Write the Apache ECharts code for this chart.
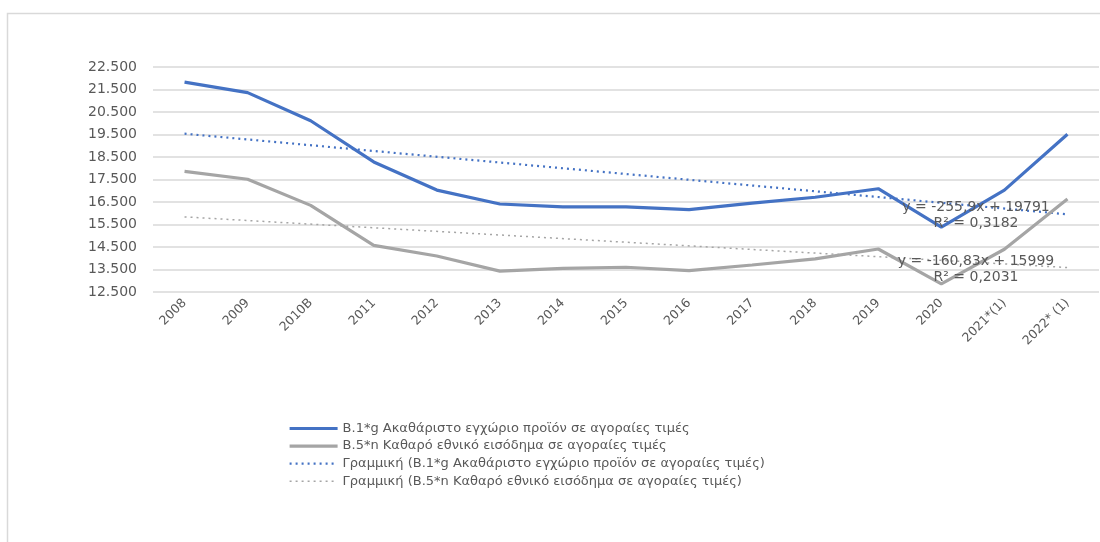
<!DOCTYPE html>
<html>
<head>
<meta charset="utf-8">
<script src="https://cdn.jsdelivr.net/npm/echarts@6/dist/echarts.min.js"></script>
<style>
  html, body { margin: 0; padding: 0; background: #ffffff; }
  #chart { width: 1100px; height: 542px; }
</style>
</head>
<body>
<div id="chart"></div>
<script>
// Years (categories)
const years = ['2008', '2009', '2010B', '2011', '2012', '2013', '2014', '2015', '2016',
  '2017', '2018', '2019', '2020', '2021*(1)', '2022* (1)'];

// Β.1*g Gross domestic product at market prices
const gdp = [21830, 21360, 20110, 18280, 17030, 16410, 16280, 16280, 16160,
  16450, 16710, 17090, 15380, 17030, 19510];

// Β.5*n Net national income at market prices
const nni = [17860, 17510, 16350, 14570, 14100, 13430, 13550, 13600, 13450,
  13700, 13970, 14410, 12860, 14400, 16630];

// Linear trend coefficients as printed on the chart (y = a·x + b, x = 1..15)
const gdpTrend = { slope: -255.9, intercept: 19791, r2: '0,3182', eq: 'y = -255,9x + 19791' };
const nniTrend = { slope: -160.83, intercept: 15999, r2: '0,2031', eq: 'y = -160,83x + 15999' };

// Y axis range and step
const yMin = 12500, yMax = 22500, yStep = 1000;

const names = [
  'Β.1*g Ακαθάριστο εγχώριο προϊόν σε αγοραίες τιμές',
  'Β.5*n Καθαρό εθνικό εισόδημα σε αγοραίες τιμές',
  'Γραμμική (Β.1*g Ακαθάριστο εγχώριο προϊόν σε αγοραίες τιμές)',
  'Γραμμική (Β.5*n Καθαρό εθνικό εισόδημα σε αγοραίες τιμές)'
];

// Trend line drawn between its first and last category
function trendEnds(t) {
  const n = years.length;
  return [[0, t.slope * 1 + t.intercept], [n - 1, t.slope * n + t.intercept]];
}

const textColor = '#595959';
const font = 'DejaVu Sans';

// Trend equation / R² text centred at (cx, cy)
function eqText(cx, cy, text) {
  return {
    type: 'text', z: 10, silent: true,
    x: cx, y: cy,
    style: { text: text, fill: textColor, font: '14px "DejaVu Sans"', align: 'center', verticalAlign: 'middle' }
  };
}

const chart = echarts.init(document.getElementById('chart'), null, { renderer: 'canvas' });

chart.setOption({
  animation: false,
  backgroundColor: '#ffffff',
  textStyle: { fontFamily: font, color: textColor },
  grid: { left: 153, right: 1, top: 67, bottom: 250, containLabel: false },
  xAxis: {
    type: 'category',
    data: years,
    boundaryGap: true,
    axisLine: { show: false },
    axisTick: { show: false },
    axisLabel: { rotate: 45, margin: 9, color: textColor, fontSize: 12.5, fontFamily: font, interval: 0 }
  },
  yAxis: {
    type: 'value',
    min: yMin,
    max: yMax,
    interval: yStep,
    axisLine: { show: false },
    axisTick: { show: false },
    splitLine: { lineStyle: { color: '#d9d9d9', width: 1.5 } },
    axisLabel: {
      margin: 16,
      color: textColor,
      fontSize: 14,
      fontFamily: font,
      formatter: v => String(v).replace(/\B(?=(\d{3})+(?!\d))/g, '.')
    }
  },
  legend: {
    orient: 'vertical',
    left: 283,
    top: 417,
    itemWidth: 48,
    itemHeight: 14,
    itemGap: 4.6,
    itemStyle: { opacity: 0 },
    lineStyle: { width: 'inherit' },
    textStyle: { color: textColor, fontSize: 13, fontFamily: font },
    data: names
  },
  series: [
    {
      name: names[0], type: 'line', data: gdp, symbol: 'none', z: 3,
      lineStyle: { color: '#4472c4', width: 3.2 }, itemStyle: { color: '#4472c4' }
    },
    {
      name: names[1], type: 'line', data: nni, symbol: 'none', z: 3,
      lineStyle: { color: '#a5a5a5', width: 3.2 }, itemStyle: { color: '#a5a5a5' }
    },
    {
      name: names[2], type: 'line', data: trendEnds(gdpTrend), symbol: 'none', z: 2,
      lineStyle: { color: '#4472c4', width: 2.2, type: [2, 4] }, itemStyle: { color: '#4472c4' }
    },
    {
      name: names[3], type: 'line', data: trendEnds(nniTrend), symbol: 'none', z: 2,
      lineStyle: { color: '#a5a5a5', width: 1.5, type: [2, 4] }, itemStyle: { color: '#a5a5a5' }
    }
  ],
  graphic: [
    {
      type: 'rect', silent: true, z: -1,
      shape: { x: 7.5, y: 13.5, width: 1200, height: 600 },
      style: { fill: 'none', stroke: '#d9d9d9', lineWidth: 1.5 }
    },
    eqText(976, 207, gdpTrend.eq),
    eqText(976, 223, 'R² = ' + gdpTrend.r2),
    eqText(976, 261, nniTrend.eq),
    eqText(976, 277, 'R² = ' + nniTrend.r2)
  ]
});
</script>
</body>
</html>
